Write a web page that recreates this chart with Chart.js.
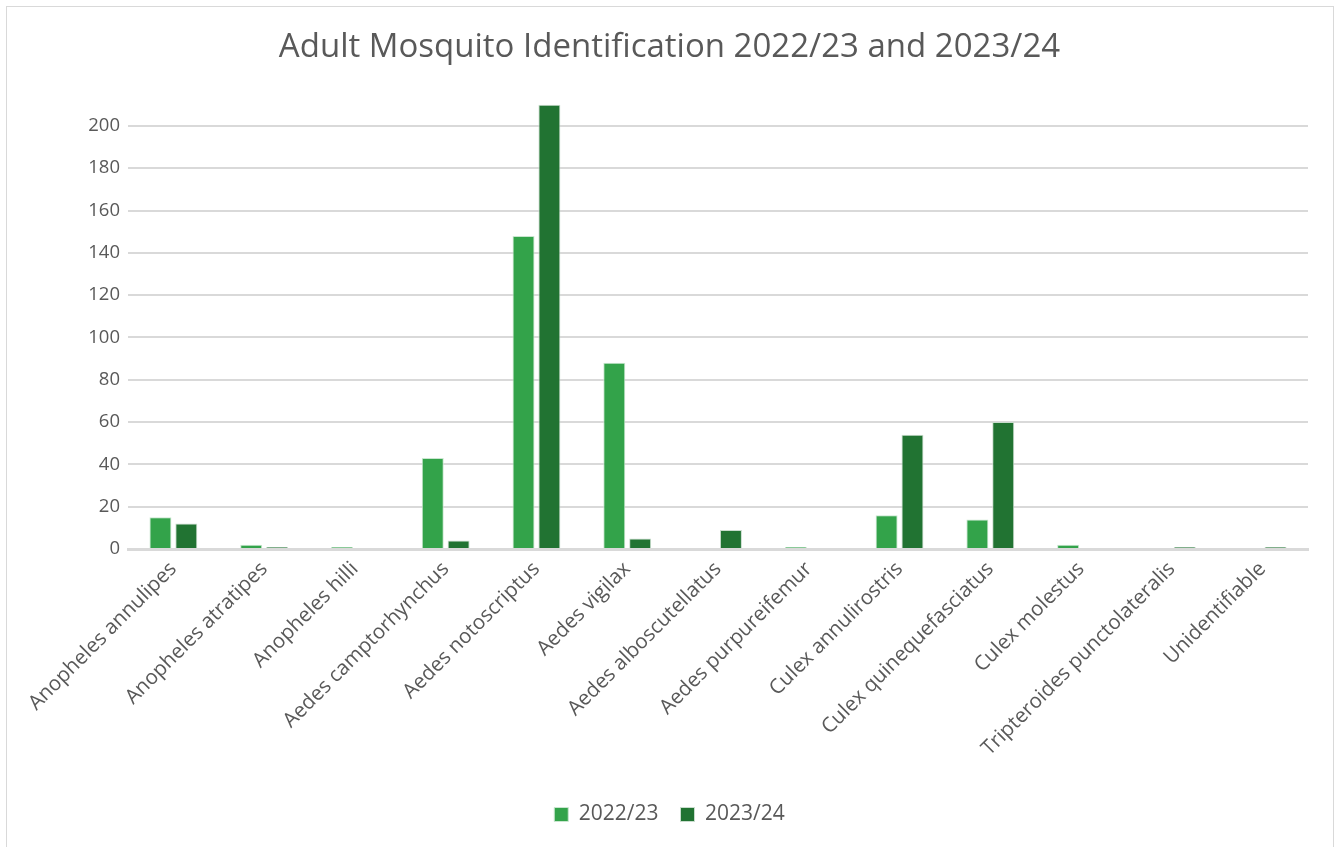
<!DOCTYPE html>
<html>
<head>
<meta charset="utf-8">
<script src="https://cdn.jsdelivr.net/npm/chart.js@4"></script>
<style>
    body { margin: 0; background: #fff; }
    #frame { position: absolute; left: 6px; top: 6px; width: 1328px; height: 850px; border: 1px solid #d9d9d9; box-sizing: border-box; }
    #wrap { position: absolute; left: 0; top: 0; width: 1339px; height: 847px; }
</style>
</head>
<body>
<div id="frame"></div>
<div id="wrap"><canvas id="myChart"></canvas></div>
<script>
var species = ["Anopheles annulipes", "Anopheles atratipes", "Anopheles hilli", "Aedes camptorhynchus",
    "Aedes notoscriptus", "Aedes vigilax", "Aedes alboscutellatus", "Aedes purpureifemur",
    "Culex annulirostris", "Culex quinequefasciatus", "Culex molestus", "Tripteroides punctolateralis",
    "Unidentifiable"];
var season2223 = [15, 2, 1, 43, 148, 88, 0, 1, 16, 14, 2, 0, 0];
var season2324 = [12, 1, 0, 4, 210, 5, 9, 0, 54, 60, 0, 1, 1];
var yTicks = [0, 20, 40, 60, 80, 100, 120, 140, 160, 180, 200];

window.onload = function () {
    var ctx = document.getElementById("myChart").getContext("2d");
    var font = "'Open Sans', sans-serif";
    var chart = new Chart(ctx, {
        type: "bar",
        data: {
            labels: species,
            datasets: [
                {
                    label: "2022/23",
                    backgroundColor: "#33a34a",
                    borderColor: "#c9e6cf",
                    borderWidth: 1,
                    data: season2223,
                },
                {
                    label: "2023/24",
                    backgroundColor: "#217332",
                    borderColor: "#c9dccd",
                    borderWidth: 1,
                    data: season2324,
                },
            ],
        },
        options: {
            responsive: true,
            maintainAspectRatio: false,
            animation: false,
            datasets: {
                bar: { categoryPercentage: 0.57, barPercentage: 0.85 }
            },
            layout: { padding: { left: 31, right: 31, top: 2, bottom: 12 } },
            plugins: {
                title: {
                    display: true,
                    text: "Adult Mosquito Identification 2022/23 and 2023/24",
                    color: "#595959",
                    font: { family: font, size: 33, weight: "normal" },
                    padding: { top: 26, bottom: 16 },
                },
                legend: {
                    position: "bottom",
                    labels: {
                        color: "#595959",
                        font: { family: font, size: 21 },
                        boxWidth: 14,
                        boxHeight: 14,
                        padding: 22,
                    },
                },
                tooltip: { enabled: false },
            },
            scales: {
                x: {
                    grid: { display: false, drawTicks: false },
                    border: { color: "#d9d9d9", width: 3 },
                    ticks: {
                        color: "#595959",
                        font: { family: font, size: 20.5 },
                        maxRotation: 45,
                        minRotation: 45,
                        padding: 8,
                    },
                    afterFit: function (axis) { axis.height = 233; },
                },
                y: {
                    min: 0,
                    max: 220,
                    afterBuildTicks: function (axis) {
                        axis.ticks = yTicks.map(function (v) { return { value: v }; });
                    },
                    grid: { color: "#d9d9d9", lineWidth: 2, drawTicks: false },
                    border: { display: false },
                    ticks: {
                        color: "#595959",
                        font: { family: font, size: 18.5 },
                        padding: 8,
                    },
                    afterFit: function (axis) { axis.width = 97; },
                },
            },
        },
    });
};
</script>
</body>
</html>
